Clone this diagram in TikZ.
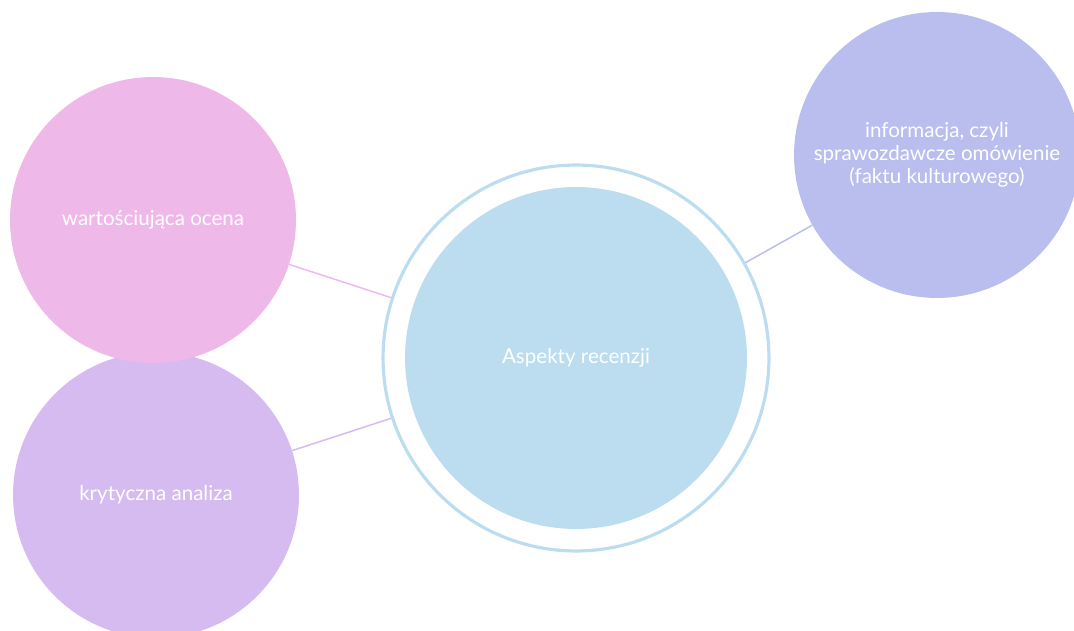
\documentclass[tikz,border=0pt]{standalone}
\usepackage{fontspec}
\setmainfont{Lato}
\usepackage{tikz}
\usetikzlibrary{positioning}
\definecolor{srodek}{HTML}{BBDDEF}
\definecolor{roz}{HTML}{EEB9E8}
\definecolor{fiolet}{HTML}{D5BBEF}
\definecolor{lawenda}{HTML}{BABEEE}
\tikzset{bubble/.style = {circle, minimum size=5.72cm, inner sep=0pt,
                          text=white, align=center,
                          font=\fontsize{11.7}{13}\selectfont}}
\tikzset{link/.style = {line width=0.85pt}}
\begin{document}
\begin{tikzpicture}[x=0.02cm, y=-0.02cm]
				\useasboundingbox (0, 0) rectangle (1074, 631);
				\clip (0, 0) rectangle (1074, 631);
				\node (ring) at (576, 358) [circle, draw=srodek, line width=1.8pt, minimum size=7.72cm] {};
				\node (centre) at (576, 358) [bubble, fill=srodek, minimum size=6.84cm] {Aspekty recenzji};
				\node (analiza) at (156, 495) [bubble, fill=fiolet] {krytyczna analiza};
				\node (ocena) at (153, 220) [bubble, fill=roz] {wartościująca ocena};
				\node (informacja) at (937, 155) [bubble, fill=lawenda] {informacja, czyli\\sprawozdawcze omówienie\\(faktu kulturowego)};
				\draw [link, draw=roz] (ring) to (ocena);
				\draw [link, draw=fiolet] (ring) to (analiza);
				\draw [link, draw=lawenda] (ring) to (informacja);
		\end{tikzpicture}
\end{document}
